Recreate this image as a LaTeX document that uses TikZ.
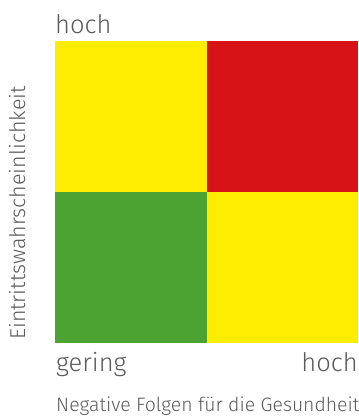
\documentclass[tikz,border=0pt]{standalone}
\usepackage{fontspec}
\setmainfont{Fira Sans}[UprightFont=* Light]
\definecolor{riskYellow}{RGB}{255,237,0}
\definecolor{riskRed}{RGB}{215,19,23}
\definecolor{riskGreen}{RGB}{77,163,50}
\definecolor{labelGray}{RGB}{90,90,90}
\begin{document}
\begin{tikzpicture}
[x=1pt,y=-1pt,%
  field/.style={inner sep=0pt,outer sep=0pt,minimum width=151.5pt,minimum height=151pt,anchor=north west},%
  axisText/.style={inner sep=0pt,text=labelGray,font=\fontsize{25.5}{30}\selectfont},%
  titleText/.style={inner sep=0pt,text=labelGray,font=\fontsize{19.4}{23}\selectfont}]
\useasboundingbox (0,0) rectangle (359,416);
%% risk fields
\foreach \fieldname/\x/\y/\col in {tl/55/41/riskYellow, tr/206.5/41/riskRed,
  bl/55/192/riskGreen, br/206.5/192/riskYellow}
{
  \node (\fieldname) at (\x,\y) [field,fill=\col] {};
}
%% axis labels
\node (yHigh) at (55,33) [axisText,anchor=base west] {hoch};
\node (xLow) at (56,371) [axisText,anchor=base west] {gering};
\node (xHigh) at (358,371) [axisText,anchor=base east] {hoch};
\node (xTitle) at (56,411) [titleText,anchor=base west] {Negative Folgen für die Gesundheit};
\node (yTitle) at (25,340) [titleText,anchor=base west,rotate=90,font=\fontsize{21.5}{25}\selectfont] {Eintrittswahrscheinlichkeit};
\end{tikzpicture}
\end{document}
